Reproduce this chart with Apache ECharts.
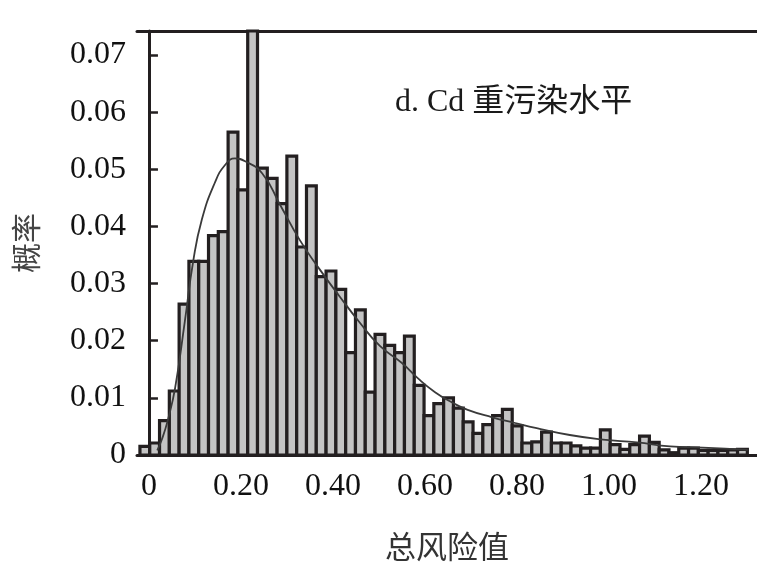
<!DOCTYPE html>
<html>
<head>
<meta charset="utf-8">
<script src="https://cdn.jsdelivr.net/npm/echarts@6/dist/echarts.min.js"></script>
<style>
  html, body { margin: 0; padding: 0; background: #fff; }
  #chart { width: 757px; height: 567px; }
</style>
</head>
<body>
<div id="chart"></div>
<script>
// histogram bins: first bin starts a bit left of 0
const binStart = -0.0196;
const binWidth = 0.0213;
const binHeights = [
  0.0015, 0.0021, 0.0060, 0.0112, 0.0264, 0.0339, 0.0339, 0.0384, 0.0391, 0.0565,
  0.0464, 0.0742, 0.0502, 0.0484, 0.0440, 0.0523, 0.0364, 0.0471, 0.0312, 0.0322,
  0.0290, 0.0179, 0.0254, 0.0110, 0.0211, 0.0192, 0.0179, 0.0208, 0.0122, 0.0069,
  0.0090, 0.0100, 0.0082, 0.0058, 0.0038, 0.0053, 0.0069, 0.0080, 0.0051, 0.0021,
  0.0023, 0.0040, 0.0021, 0.0021, 0.0016, 0.0012, 0.0012, 0.0044, 0.0018, 0.0010,
  0.0018, 0.0033, 0.0022, 0.0009, 0.0004, 0.0012, 0.0012, 0.0008, 0.0008, 0.0008,
  0.0009, 0.0010
];

// fitted density curve
const curveX = [0.018, 0.028, 0.041, 0.057, 0.078, 0.096, 0.115, 0.143, 0.165, 0.187,
  0.209, 0.246, 0.285, 0.328, 0.372, 0.415, 0.459, 0.502, 0.550, 0.585,
  0.622, 0.659, 0.693, 0.746, 0.796, 0.843, 0.915, 0.987, 1.061, 1.133,
  1.204, 1.302];
const curveY = [0.0008, 0.0027, 0.0061, 0.0118, 0.0234, 0.0338, 0.0412, 0.0476, 0.0507, 0.0519,
  0.0514, 0.0493, 0.0438, 0.0376, 0.0324, 0.0277, 0.0231, 0.0191, 0.0161, 0.0134,
  0.0110, 0.0092, 0.0079, 0.0066, 0.0056, 0.0047, 0.0035, 0.0027, 0.0022, 0.0015,
  0.0013, 0.0009];

const xTicks = [0, 0.2, 0.4, 0.6, 0.8, 1.0, 1.2];
const yTicks = [0, 0.01, 0.02, 0.03, 0.04, 0.05, 0.06, 0.07];

const chart = echarts.init(document.getElementById('chart'));

const bins = binHeights.map((h, i) => [binStart + i * binWidth, binStart + (i + 1) * binWidth, h]);
const curve = curveX.map((x, i) => [x, curveY[i]]);

const serif = '"Liberation Serif", "DejaVu Serif", serif';
const lineColor = '#231f20';

const option = {
  animation: false,
  title: {
    text: 'd. Cd 重污染水平',
    left: 390,
    top: 82,
    textStyle: {
      fontFamily: '"Liberation Serif", "Noto Sans CJK SC", serif',
      fontWeight: 'normal',
      fontSize: 32,
      color: '#1a1a1a'
    }
  },
  grid: { left: 137, right: 0, top: 31, bottom: 106 },
  xAxis: [
    {
      type: 'value',
      min: -0.026,
      max: 1.322,
      name: '总风险值',
      nameLocation: 'middle',
      nameGap: 76,
      nameTextStyle: { fontFamily: '"Noto Sans CJK SC"', fontSize: 31, color: '#333' },
      axisLine: { lineStyle: { color: lineColor, width: 3 } },
      axisTick: { show: false },
      splitLine: { show: false },
      axisLabel: {
        customValues: xTicks,
        margin: 16,
        fontFamily: serif,
        fontSize: 32,
        color: '#111',
        formatter: v => (v === 0 ? '0' : v.toFixed(2))
      }
    },
    {
      type: 'value',
      position: 'top',
      min: -0.026,
      max: 1.322,
      axisLine: { lineStyle: { color: lineColor, width: 3 } },
      axisTick: { show: false },
      axisLabel: { show: false },
      splitLine: { show: false }
    }
  ],
  yAxis: {
    type: 'value',
    min: 0,
    max: 0.0742,
    name: '概率',
    nameLocation: 'middle',
    nameGap: 96,
    nameTextStyle: { fontFamily: '"Noto Sans CJK SC"', fontSize: 30, color: '#444' },
    axisLine: { show: true, lineStyle: { color: lineColor, width: 3 } },
    axisTick: {
      inside: true,
      length: 9,
      customValues: yTicks,
      lineStyle: { color: lineColor, width: 2.5 }
    },
    splitLine: { show: false },
    axisLabel: {
      customValues: yTicks,
      margin: 11,
      fontFamily: serif,
      fontSize: 32,
      color: '#111',
      formatter: v => (v === 0 ? '0' : v.toFixed(2))
    }
  },
  series: [
    {
      type: 'custom',
      data: bins,
      encode: { x: [0, 1], y: 2 },
      renderItem: (params, api) => {
        const p0 = api.coord([api.value(0), api.value(2)]);
        const p1 = api.coord([api.value(1), 0]);
        return {
          type: 'rect',
          shape: { x: p0[0], y: p0[1], width: p1[0] - p0[0], height: p1[1] - p0[1] },
          style: { fill: '#c4c4c4', stroke: lineColor, lineWidth: 3.2 }
        };
      }
    },
    {
      type: 'line',
      data: curve,
      smooth: true,
      showSymbol: false,
      z: 5,
      lineStyle: { color: '#3a3a3a', width: 1.8 }
    }
  ]
};

chart.setOption(option);
</script>
</body>
</html>
